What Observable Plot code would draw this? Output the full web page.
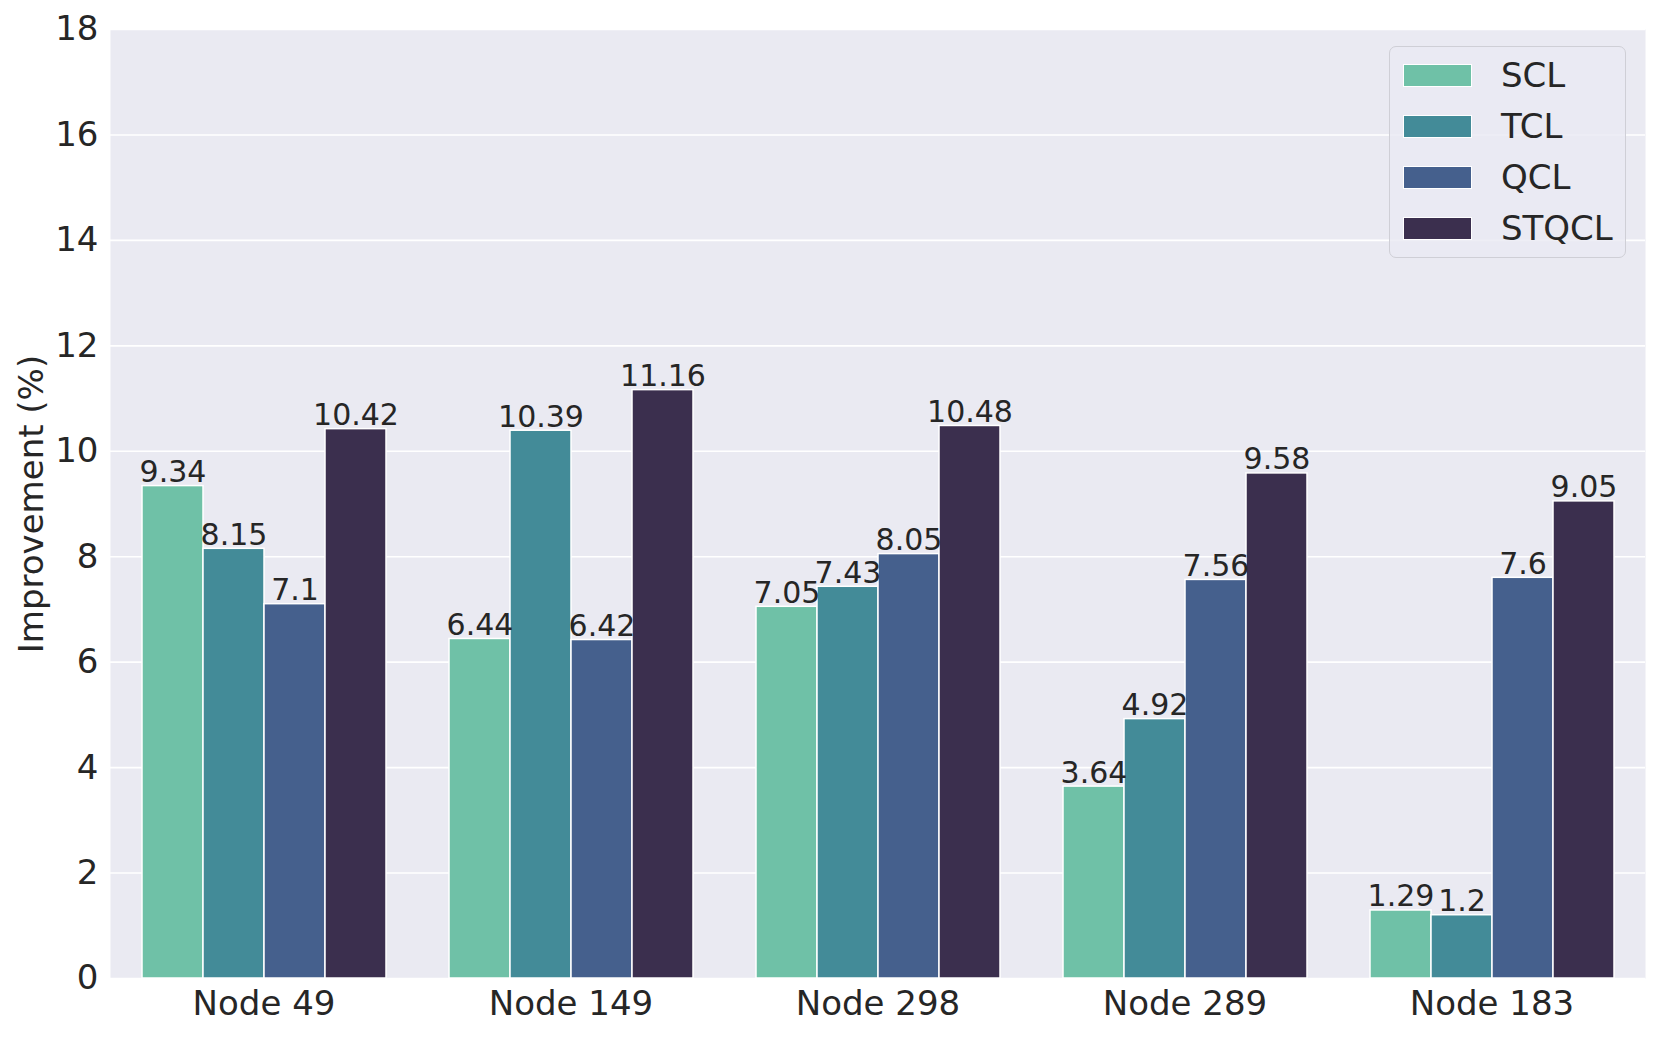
<!DOCTYPE html>
<html>
<head>
<meta charset="utf-8">
<script src="https://cdn.jsdelivr.net/npm/d3@7"></script>
<script src="https://cdn.jsdelivr.net/npm/@observablehq/plot@0.6"></script>
<style>
  html, body { margin: 0; padding: 0; background: #ffffff; }
  #wrap { position: relative; width: 1661px; height: 1038px; font-family: "DejaVu Sans", sans-serif; }
  #legend {
    position: absolute; left: 1389px; top: 46px; width: 237px; height: 212px;
    background: rgba(234,234,242,0.8); border: 1.5px solid #cfcfd6; border-radius: 7px;
    box-sizing: border-box;
  }
  .row { position: absolute; left: 13px; height: 24px; display: flex; align-items: center; }
  .sw { width: 69px; height: 23px; box-sizing: border-box; border: 1.5px solid #ffffff; }
  .lab { margin-left: 29px; font-size: 34px; color: #262626; line-height: 24px; }
</style>
</head>
<body>
<div id="wrap"></div>
<script>
const nodes = ["Node 49", "Node 149", "Node 298", "Node 289", "Node 183"];
const methods = ["SCL", "TCL", "QCL", "STQCL"];
const colors = ["#6fc1a7", "#438b98", "#45608d", "#3b2f4e"];
const scl = [9.34, 6.44, 7.05, 3.64, 1.29];
const tcl = [8.15, 10.39, 7.43, 4.92, 1.2];
const qcl = [7.1, 6.42, 8.05, 7.56, 7.6];
const stqcl = [10.42, 11.16, 10.48, 9.58, 9.05];
const yTicks = [0, 2, 4, 6, 8, 10, 12, 14, 16, 18];

const series = [scl, tcl, qcl, stqcl];
const data = [];
nodes.forEach((n, i) => methods.forEach((m, j) => data.push({node: n, method: m, value: series[j][i]})));

const chart = Plot.plot({
  width: 1661,
  height: 1038,
  marginLeft: 110,
  marginRight: 16,
  marginTop: 29,
  marginBottom: 60,
  style: {fontFamily: "DejaVu Sans", color: "#262626", background: "#ffffff", maxWidth: "none"},
  fx: {domain: nodes, padding: 0, axis: null},
  x: {domain: methods, paddingInner: 0, paddingOuter: 0.5, axis: null},
  y: {domain: [0, 18], axis: null},
  color: {domain: methods, range: colors},
  marks: [
    Plot.frame({fill: "#eaeaf2", stroke: null, facet: "super"}),
    Plot.gridY(yTicks, {stroke: "#ffffff", strokeOpacity: 1, strokeWidth: 1.6}),
    Plot.barY(data, {fx: "node", x: "method", y: "value", fill: "method", stroke: "#ffffff", strokeWidth: 1.5, inset: 0}),
    Plot.text(data, {fx: "node", x: "method", y: "value", text: d => String(d.value), lineAnchor: "bottom", dy: -4, fontSize: 30, fill: "#262626"}),
    Plot.axisY({ticks: yTicks, tickSize: 0, tickPadding: 12, fontSize: 34, label: "Improvement (%)", labelAnchor: "center", labelArrow: "none", labelOffset: 92}),
    Plot.axisFx({anchor: "bottom", tickSize: 0, tickPadding: 12, fontSize: 34, label: null})
  ]
});
const wrap = document.getElementById("wrap");
wrap.appendChild(chart);

const legend = document.createElement("div");
legend.id = "legend";
methods.forEach((m, j) => {
  const row = document.createElement("div");
  row.className = "row";
  row.style.top = (16 + j * 51) + "px";
  const sw = document.createElement("div");
  sw.className = "sw";
  sw.style.background = colors[j];
  const lab = document.createElement("div");
  lab.className = "lab";
  lab.textContent = m;
  row.appendChild(sw);
  row.appendChild(lab);
  legend.appendChild(row);
});
wrap.appendChild(legend);
</script>
</body>
</html>
